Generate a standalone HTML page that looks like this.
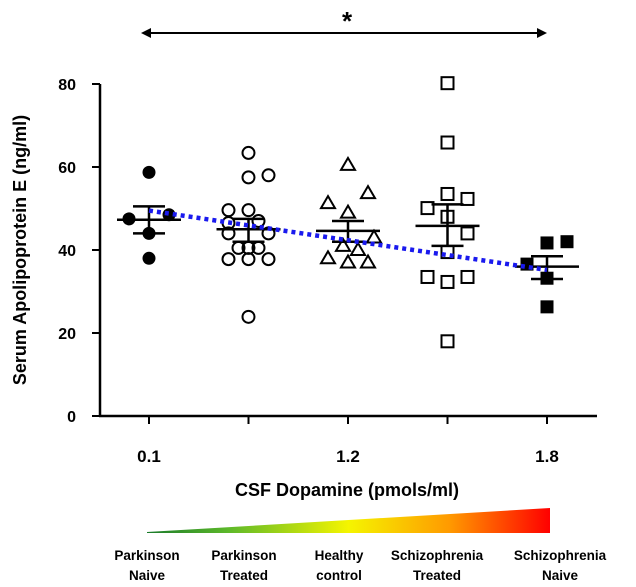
<!DOCTYPE html>
<html><head><meta charset="utf-8"><style>
html,body{margin:0;padding:0;background:#fff}
svg{display:block}
text{font-family:"Liberation Sans",sans-serif;font-weight:bold;fill:#000}
.narrow{font-family:"Liberation Sans Narrow","Liberation Sans",sans-serif}
</style></head><body>
<svg id="chart" width="636" height="587" viewBox="0 0 636 587">
<defs>
<linearGradient id="grad" x1="0" x2="1" y1="0" y2="0">
<stop offset="0" stop-color="#1a7a2a"/><stop offset="0.2" stop-color="#5cb82a"/>
<stop offset="0.5" stop-color="#f5f500"/><stop offset="0.75" stop-color="#ff9a00"/>
<stop offset="1" stop-color="#ff0000"/></linearGradient>
</defs>
<g id="sig">
<line x1="145" y1="33" x2="543" y2="33" stroke="#000" stroke-width="2"/>
<polygon points="141,33 151,28 151,38" fill="#000"/>
<polygon points="547,33 537,28 537,38" fill="#000"/>
<text x="347" y="30" font-size="26" text-anchor="middle">*</text>
</g>
<g id="axes"></g>
<g id="marks"></g>
<text transform="translate(26,250) rotate(-90)" font-size="18" text-anchor="middle">Serum Apolipoprotein E (ng/ml)</text>
<text x="347" y="496" font-size="18" text-anchor="middle">CSF Dopamine (pmols/ml)</text>
<polygon points="147,532 550,508 550,533 147,533" fill="url(#grad)"/>
<g class="narrow" font-size="13.5" text-anchor="middle">
<text x="147" y="560">Parkinson</text><text x="147" y="580">Naive</text>
<text x="244" y="560">Parkinson</text><text x="244" y="580">Treated</text>
<text x="339" y="560">Healthy</text><text x="339" y="580">control</text>
<text x="437" y="560">Schizophrenia</text><text x="437" y="580">Treated</text>
<text x="560" y="560">Schizophrenia</text><text x="560" y="580">Naive</text>
</g>
</svg>
<script>
const groups=["Parkinson Naive","Parkinson Treated","Healthy control","Schizophrenia Treated","Schizophrenia Naive"];
const shapes=["filled-circle","open-circle","open-triangle","open-square","filled-square"];
const yTicks=[0,20,40,60,80];
const xTickLabels=["0.1","","1.2","","1.8"];
const g1=[58.7,47.5,44,38,48.5];
const g2=[63.4,57.5,58,49.6,49.6,47,46.5,44,44,40.5,40.5,40.5,37.8,37.8,37.8,23.9];
const g3=[60.5,53.7,51.3,49,43,41,40,38,37,37];
const g4=[80.2,65.9,53.5,52.3,50.1,48,44,39.5,33.5,32.3,33.5,18];
const g5=[41.7,42,36.6,33.2,26.3];
const offs1=[0,-20,0,0,20];
const offs2=[0,0,20,-20,0,10,-20,20,-20,-10,10,0,-20,0,20,0];
const offs3=[0,20,-20,0,26,-5,10,-20,0,20];
const offs4=[0,0,0,20,-20,0,20,0,-20,0,20,0];
const offs5=[0,20,-20,0,0];
const means=[47.3,45,44.6,45.8,36];
const semHi=[50.5,47.5,47,51,38.5];
const semLo=[44,42,42,41,33];
const trend=[49.5,35.2];
const values=[g1,g2,g3,g4,g5], offsets=[offs1,offs2,offs3,offs4,offs5];
const NS="http://www.w3.org/2000/svg";
const X=i=>149+i*99.5, Y=v=>416-v*(332/80);
function mk(tag,attrs,parent){const e=document.createElementNS(NS,tag);for(const k in attrs)e.setAttribute(k,attrs[k]);parent.appendChild(e);return e;}
const ax=document.getElementById('axes'), mg=document.getElementById('marks');
let e=mk('line',{x1:100,y1:Y(80),x2:100,y2:417,stroke:'#000','stroke-width':2.5},ax);


e=mk('line',{x1:99,y1:416,x2:597,y2:416,stroke:'#000','stroke-width':2.5},ax);


yTicks.forEach(t=>{
 let l=mk('line',{x1:92,y1:Y(t),x2:100,y2:Y(t),stroke:'#000','stroke-width':2},ax);
 
 
 let tx=mk('text',{x:76,y:Y(t)+6,'font-size':16,'text-anchor':'end'},ax);tx.textContent=t;
 
 
});
groups.forEach((gname,i)=>{
 let l=mk('line',{x1:X(i),y1:416,x2:X(i),y2:424,stroke:'#000','stroke-width':2},ax);
 
 
 if(xTickLabels[i]){let tx=mk('text',{x:X(i),y:462,'font-size':17,'text-anchor':'middle'},ax);tx.textContent=xTickLabels[i];
 
 }
 values[i].forEach((v,j)=>{
  const cx=X(i)+offsets[i][j], cy=Y(v); let m;
  const s=shapes[i];
  if(s==='filled-circle') m=mk('circle',{cx,cy,r:6.5,fill:'#000'},mg);
  else if(s==='open-circle') m=mk('circle',{cx,cy,r:6,fill:'none',stroke:'#000','stroke-width':2},mg);
  else if(s==='open-triangle') m=mk('polygon',{points:`${cx},${cy-7} ${cx-7},${cy+5} ${cx+7},${cy+5}`,fill:'none',stroke:'#000','stroke-width':2},mg);
  else if(s==='open-square') m=mk('rect',{x:cx-6,y:cy-6,width:12,height:12,fill:'none',stroke:'#000','stroke-width':2},mg);
  else m=mk('rect',{x:cx-6.5,y:cy-6.5,width:13,height:13,fill:'#000'},mg);
  
  
 });
 let mm=mk('line',{x1:X(i)-32,y1:Y(means[i]),x2:X(i)+32,y2:Y(means[i]),stroke:'#000','stroke-width':2.5},mg);
 
 
 let ev=mk('path',{d:`M${X(i)},${Y(semHi[i])}V${Y(semLo[i])}M${X(i)-16},${Y(semHi[i])}H${X(i)+16}M${X(i)-16},${Y(semLo[i])}H${X(i)+16}`,stroke:'#000','stroke-width':2.5,fill:'none'},mg);
 
 
});
let tl=mk('line',{x1:X(0),y1:Y(trend[0]),x2:X(4),y2:Y(trend[1]),stroke:'#1a1aee','stroke-width':4.5,'stroke-dasharray':'4 4'},mg);


</script>
</body></html>
